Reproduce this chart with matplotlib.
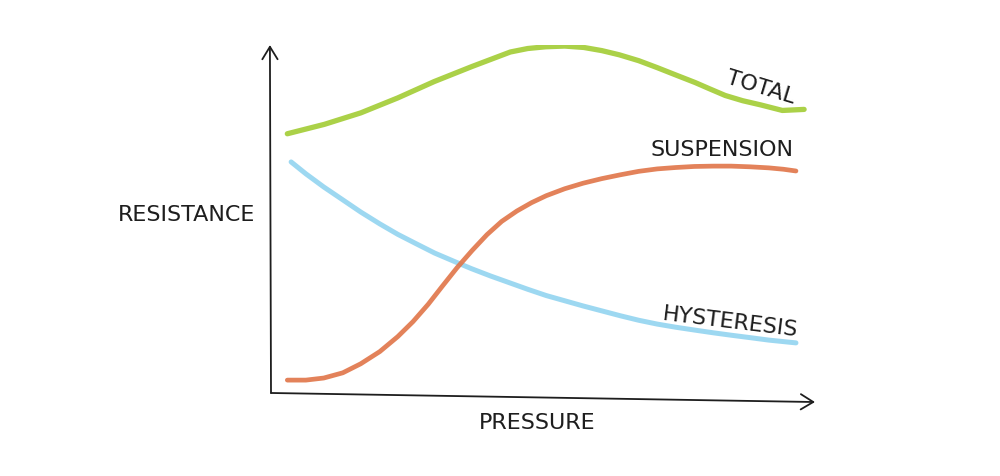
import matplotlib
matplotlib.use('Agg')
import matplotlib.pyplot as plt

# values (pressure / resistance, arbitrary 0-10 units)
total_x = [0.3, 0.98, 1.65, 2.33, 3.0, 3.69, 4.4, 4.72, 5.05, 5.4, 5.75, 6.08, 6.4,
           6.76, 7.1, 7.44, 7.8, 8.05, 8.35, 8.67, 9.0, 9.4, 9.8]
total_y = [7.45, 7.72, 8.05, 8.48, 8.95, 9.38, 9.8, 9.9, 9.95, 9.97, 9.93, 9.84, 9.72,
           9.55, 9.35, 9.14, 8.92, 8.75, 8.55, 8.4, 8.28, 8.12, 8.15]

susp_x = [0.3, 0.64, 0.97, 1.32, 1.65, 2.0, 2.33, 2.61, 2.89, 3.15, 3.42, 3.7, 3.97,
          4.24, 4.52, 4.79, 5.06, 5.4, 5.74, 6.08, 6.42, 6.76, 7.1, 7.44, 7.78, 8.13,
          8.46, 8.81, 9.15, 9.42, 9.65]
susp_y = [0.37, 0.37, 0.43, 0.58, 0.84, 1.19, 1.62, 2.05, 2.55, 3.07, 3.6, 4.1, 4.55,
          4.93, 5.23, 5.47, 5.67, 5.87, 6.03, 6.16, 6.27, 6.37, 6.44, 6.48, 6.51, 6.52,
          6.52, 6.5, 6.47, 6.43, 6.38]

hyst_x = [0.37, 0.64, 0.97, 1.32, 1.65, 2.0, 2.33, 2.68, 3.01, 3.46, 3.69, 4.04, 4.38,
          4.72, 5.06, 5.74, 6.08, 6.42, 6.76, 7.1, 7.44, 7.78, 8.13, 8.46, 8.81, 9.15,
          9.65]
hyst_y = [6.64, 6.3, 5.92, 5.55, 5.2, 4.86, 4.56, 4.28, 4.02, 3.72, 3.57, 3.36, 3.17,
          2.98, 2.8, 2.5, 2.36, 2.22, 2.09, 1.98, 1.89, 1.81, 1.73, 1.66, 1.59, 1.52,
          1.44]

labels = ['TOTAL', 'SUSPENSION', 'HYSTERESIS']
x_label = 'PRESSURE'
y_label = 'RESISTANCE'

GREEN = '#a2cc34'
ORANGE = '#e07548'
BLUE = '#93d4f0'
INK = '#1e1e1e'

fig = plt.figure(figsize=(10, 4.76), dpi=100)
ax = fig.add_axes([0.271, 0.1744, 0.544, 0.731])
ax.set_xlim(0, 10)
ax.set_ylim(0, 10)
ax.axis('off')

kw = dict(solid_capstyle='round', solid_joinstyle='round', alpha=0.9)
ax.plot(hyst_x, hyst_y, color=BLUE, lw=3.6, **kw)
ax.plot(susp_x, susp_y, color=ORANGE, lw=3.4, **kw)
ax.plot(total_x, total_y, color=GREEN, lw=3.8, **kw)

# hand drawn axes with open arrow heads
arrow = dict(arrowstyle='->,head_length=0.9,head_width=0.55', color=INK, lw=1.3,
             shrinkA=0, shrinkB=0)
ax.annotate('', xy=(-0.02, 10.0), xytext=(0, 0), arrowprops=arrow, annotation_clip=False)
ax.annotate('', xy=(10.0, -0.26), xytext=(0, 0), arrowprops=arrow, annotation_clip=False)

font = dict(family='DejaVu Sans', fontsize=16, color=INK, ha='center', va='center',
            clip_on=False)
ax.text(4.89, -0.86, x_label, **font)
ax.text(-1.56, 5.11, y_label, **font)
ax.text(9.0, 8.79, labels[0], rotation=-17, **font)
ax.text(8.29, 6.98, labels[1], **font)
ax.text(8.44, 2.04, labels[2], rotation=-7, **font)

fig.savefig('out.png', dpi=100, facecolor='white')
